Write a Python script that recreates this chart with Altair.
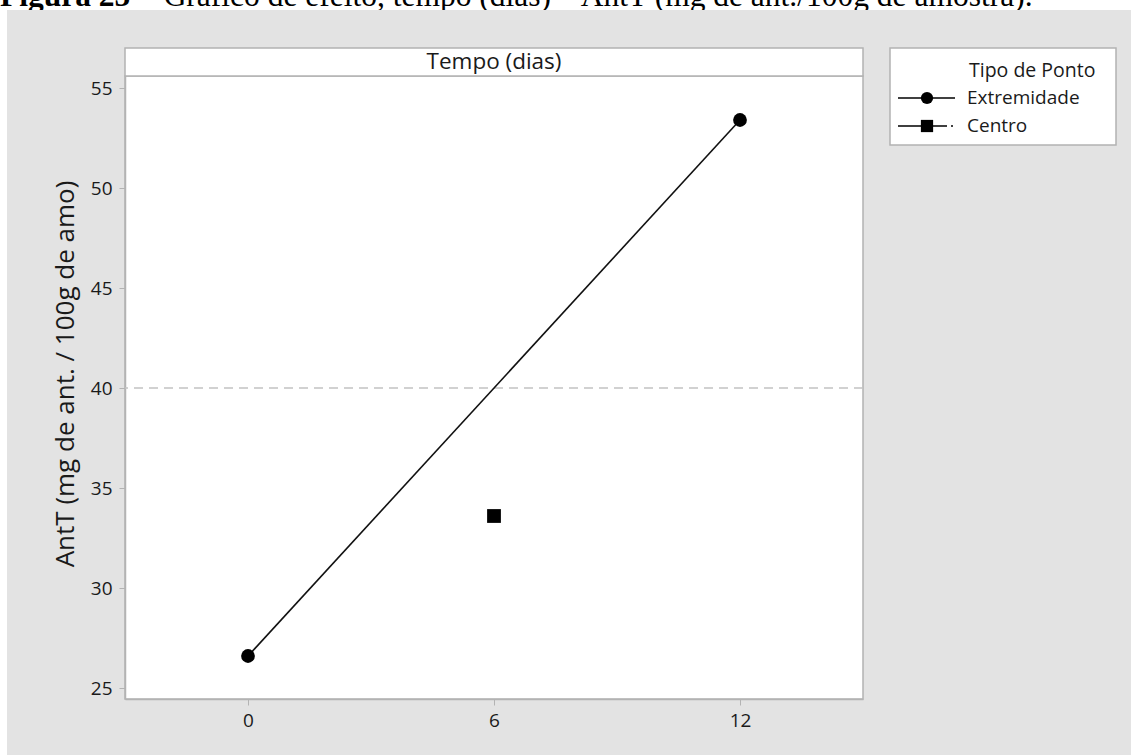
import altair as alt
import pandas as pd

# ---- data ----
extremidade_x = [0, 12]
extremidade_y = [26.6, 53.4]
centro_x = [6]
centro_y = [33.6]
mean_line = [40.0]
x_ticks = [0, 6, 12]
y_ticks = [25, 30, 35, 40, 45, 50, 55]
legend_labels = ["Extremidade", "Centro"]
legend_title = "Tipo de Ponto"
strip_title = "Tempo (dias)"
y_title = "AntT (mg de ant. / 100g de amo)"
caption_bold = "Figura 25"
caption_rest = "– Gráfico de efeito, tempo (dias) – AntT (mg de ant./100g de amostra)."

W, H = 738, 623
FONT = "Open Sans"
FRAME = "#b3b3b3"
BG = "#e3e3e3"
TXT = "#1a1a1a"

ext = pd.DataFrame({"x": extremidade_x, "y": extremidade_y, "tipo": "Extremidade"})
cen = pd.DataFrame({"x": centro_x, "y": centro_y, "tipo": "Centro"})
mean_df = pd.DataFrame({"y": mean_line})

xs = alt.Scale(domain=[-3, 15], nice=False, zero=False)
ys = alt.Scale(domain=[24.45, 55.6], nice=False, zero=False)

xenc = alt.X("x:Q", scale=xs, axis=alt.Axis(values=x_ticks, title=None, grid=False,
             domainColor=FRAME, tickColor=FRAME, tickSize=6, labelPadding=6,
             labelFont=FONT, labelFontSize=19, labelColor=TXT, domainWidth=1.5))
yenc = alt.Y("y:Q", scale=ys, axis=alt.Axis(values=y_ticks, title=y_title, grid=False,
             domainColor=FRAME, tickColor=FRAME, tickSize=6, labelPadding=7,
             labelFont=FONT, labelFontSize=19, labelColor=TXT, domainWidth=1.5,
             titleFont=FONT, titleFontSize=26, titleFontWeight="normal", titleColor=TXT,
             titleX=-60, titleY=297.5, titleAngle=-90, titleAlign="center",
             titleBaseline="middle"))

one = pd.DataFrame({"k": [0]})

# white band at the top and left column (outside grey panel)
top_band = alt.Chart(one).mark_rect(color="white").encode(
    x=alt.value(-125), x2=alt.value(1006), y=alt.value(-76), y2=alt.value(-66))
left_band = alt.Chart(one).mark_rect(color="white").encode(
    x=alt.value(-125), x2=alt.value(-118), y=alt.value(-76), y2=alt.value(679))

cap1 = alt.Chart(pd.DataFrame({"t": [caption_bold]})).mark_text(
    font="Liberation Serif", fontSize=31.5, fontWeight="bold", align="left",
    baseline="alphabetic", color="black").encode(
    text="t:N", x=alt.value(-125), y=alt.value(-70))
cap2 = alt.Chart(pd.DataFrame({"t": [caption_rest]})).mark_text(
    font="Liberation Serif", fontSize=31.5, align="left",
    baseline="alphabetic", color="black").encode(
    text="t:N", x=alt.value(-125 + 140), y=alt.value(-70))
# grey panel edge covering the caption's descenders
grey_cover = alt.Chart(one).mark_rect(color=BG).encode(
    x=alt.value(-118), x2=alt.value(1006), y=alt.value(-66), y2=alt.value(-50))

# facet-like strip
strip = alt.Chart(one).mark_rect(fill="white", stroke=FRAME, strokeWidth=1.5).encode(
    x=alt.value(0), x2=alt.value(W), y=alt.value(-28), y2=alt.value(0))
strip_text = alt.Chart(pd.DataFrame({"t": [strip_title]})).mark_text(
    font=FONT, fontSize=22.5, color=TXT, baseline="middle").encode(
    text="t:N", x=alt.value(W / 2), y=alt.value(-14))

mean_rule = alt.Chart(mean_df).mark_rule(color="#c2c2c2", strokeWidth=1.5,
                                         strokeDash=[9, 6]).encode(y=alt.Y("y:Q", scale=ys))

line = alt.Chart(ext).mark_line(color="#111111", strokeWidth=1.6).encode(x=xenc, y=yenc)
pts_e = alt.Chart(ext).mark_point(shape="circle", filled=True, color="black", size=190,
                                  opacity=1).encode(x=alt.X("x:Q", scale=xs), y=alt.Y("y:Q", scale=ys))
pts_c = alt.Chart(cen).mark_point(shape="square", filled=True, color="black", size=190,
                                  opacity=1).encode(x=alt.X("x:Q", scale=xs), y=alt.Y("y:Q", scale=ys))

# legend
leg_box = alt.Chart(one).mark_rect(fill="white", stroke=FRAME, strokeWidth=1.5).encode(
    x=alt.value(765), x2=alt.value(991), y=alt.value(-28), y2=alt.value(69))
leg_title = alt.Chart(pd.DataFrame({"t": [legend_title]})).mark_text(
    font=FONT, fontSize=19.5, color=TXT, align="left", baseline="middle").encode(
    text="t:N", x=alt.value(844), y=alt.value(-5))
leg_t1 = alt.Chart(pd.DataFrame({"t": [legend_labels[0]]})).mark_text(
    font=FONT, fontSize=19, color=TXT, align="left", baseline="middle").encode(
    text="t:N", x=alt.value(842), y=alt.value(22))
leg_t2 = alt.Chart(pd.DataFrame({"t": [legend_labels[1]]})).mark_text(
    font=FONT, fontSize=19, color=TXT, align="left", baseline="middle").encode(
    text="t:N", x=alt.value(842), y=alt.value(50))
leg_l1 = alt.Chart(one).mark_rule(color="black", strokeWidth=1.6).encode(
    x=alt.value(773), x2=alt.value(830), y=alt.value(22))
leg_l2 = alt.Chart(one).mark_rule(color="black", strokeWidth=1.6, strokeDash=[49, 4, 2, 10]).encode(
    x=alt.value(773), x2=alt.value(830), y=alt.value(50))
leg_p1 = alt.Chart(one).mark_point(shape="circle", filled=True, color="black", size=150,
                                   opacity=1).encode(x=alt.value(802), y=alt.value(22))
leg_p2 = alt.Chart(one).mark_point(shape="square", filled=True, color="black", size=150,
                                   opacity=1).encode(x=alt.value(802), y=alt.value(50))

chart = alt.layer(
    top_band, left_band, cap1, cap2, grey_cover, strip, strip_text, mean_rule, line, pts_e, pts_c,
    leg_box, leg_title, leg_t1, leg_t2, leg_l1, leg_l2, leg_p1, leg_p2
).properties(
    width=W, height=H,
    autosize=alt.AutoSizeParams(type="none"),
    padding={"left": 125, "top": 76, "right": 268, "bottom": 56},
    background=BG,
).configure_view(fill="white", stroke=FRAME, strokeWidth=1.5)

chart.save("out.html", embed_options={"renderer": "svg", "actions": False})
